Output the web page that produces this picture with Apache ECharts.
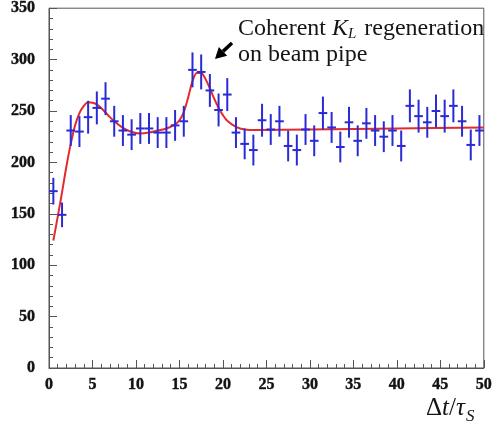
<!DOCTYPE html>
<html>
<head>
<meta charset="utf-8">
<script src="https://cdn.jsdelivr.net/npm/echarts@6/dist/echarts.min.js"></script>
<style>
html,body{margin:0;padding:0;background:#fff;}
#c{width:495px;height:428px;}
</style>
</head>
<body>
<div id="c"></div>
<script>
// Bin centres (Δt/τS)
const binX = [0.5,1.5,2.5,3.5,4.5,5.5,6.5,7.5,8.5,9.5,10.5,11.5,12.5,13.5,14.5,15.5,16.5,17.5,18.5,19.5,20.5,21.5,22.5,23.5,24.5,25.5,26.5,27.5,28.5,29.5,30.5,31.5,32.5,33.5,34.5,35.5,36.5,37.5,38.5,39.5,40.5,41.5,42.5,43.5,44.5,45.5,46.5,47.5,48.5,49.5];
// Event counts per bin
const counts = [172,149,231,230,244,253,262,240,231,227,233,233,229,229,236,240,290,288,270,251,266,229,218,212,241,232,240,216,212,232,221,248,234,215,239,221,238,231,225,231,216,255,245,239,250,245,255,240,217,231];
// Vertical error per bin
const errors = [13,12,15,15,16,16,16,15,15,15,15,15,15,15,15,15,17,17,16,16,16,15,15,15,16,15,15,15,15,15,15,16,15,15,15,15,15,15,15,15,15,16,16,15,16,16,16,15,15,15];
// Fit curve
const fitX = [0.5,1,1.5,2,2.5,3,3.5,4,4.5,5,5.5,6,6.5,7,7.5,8.5,9.5,10.5,11.5,12.5,13.5,14.5,15,15.5,16,16.5,17,17.5,18,18.5,19,19.5,20,20.5,21.5,22.5,24,30,40,50];
const fitY = [124,147,171,196,218,236,248,255,258.5,258,256.5,253,248.5,244,240,233.5,229.5,228,229,231,233,237,241,249,263,279,287,287,281,272,262,253,246,240.5,234.5,232,231.5,232,233,234];
const yTicks = [0,50,100,150,200,250,300,350];
const xTicks = [0,5,10,15,20,25,30,35,40,45,50];

const chart = echarts.init(document.getElementById('c'), null, {renderer:'canvas'});
const blue = '#2a2ad6';
const red = '#e42a2a';
const axisCol = '#555';
const labelFont = {color:'#111', fontFamily:'Liberation Serif', fontWeight:'bold', fontSize:16, textBorderColor:'#111', textBorderWidth:0.4};

chart.setOption({
  animation:false,
  backgroundColor:'#fff',
  grid:{left:49, top:7, right:7, bottom:60, show:true, borderColor:axisCol, borderWidth:1, backgroundColor:'transparent'},
  xAxis:{
    type:'value', min:xTicks[0], max:xTicks[xTicks.length-1], interval:5,
    axisLine:{show:true, onZero:false, lineStyle:{color:axisCol, width:1}},
    axisTick:{show:true, inside:true, length:8, lineStyle:{color:axisCol}},
    minorTick:{show:true, splitNumber:5, length:4, lineStyle:{color:axisCol}},
    splitLine:{show:false},
    axisLabel:Object.assign({margin:9}, labelFont)
  },
  yAxis:{
    type:'value', min:yTicks[0], max:yTicks[yTicks.length-1], interval:50,
    axisLine:{show:true, onZero:false, lineStyle:{color:axisCol, width:1}},
    axisTick:{show:true, inside:true, length:8, lineStyle:{color:axisCol}},
    minorTick:{show:true, splitNumber:5, length:4, lineStyle:{color:axisCol}},
    splitLine:{show:false},
    axisLabel:Object.assign({margin:14}, labelFont)
  },
  series:[
    {
      type:'line',
      data:fitX.map((x,i)=>[x,fitY[i]]),
      smooth:0.3,
      showSymbol:false,
      lineStyle:{color:red, width:2},
      z:3
    },
    {
      type:'custom',
      data:binX.map((x,i)=>[x,counts[i],errors[i]]),
      renderItem:function(params, api){
        const x = api.value(0), y = api.value(1), e = api.value(2);
        const c = api.coord([x,y]);
        const t = api.coord([x,y+e]);
        const b = api.coord([x,y-e]);
        const l = api.coord([x-0.5,y]);
        const r = api.coord([x+0.5,y]);
        const st = {stroke:blue, lineWidth:2};
        return {type:'group', children:[
          {type:'line', shape:{x1:c[0], y1:t[1], x2:c[0], y2:b[1]}, style:st},
          {type:'line', shape:{x1:l[0], y1:c[1], x2:r[0], y2:c[1]}, style:st}
        ]};
      },
      z:4
    }
  ],
  graphic:[
    {
      type:'text', x:238, y:16,
      style:{
        text:'{a|Coherent }{k|K}{s|L}{a| regeneration}\n{a|on beam pipe}',
        verticalAlign:'top',
        rich:{
          a:{fontFamily:'Liberation Serif', fontSize:24, lineHeight:26, fill:'#151515', verticalAlign:'middle'},
          k:{fontFamily:'Liberation Serif', fontSize:24, fontStyle:'italic', lineHeight:26, fill:'#151515', verticalAlign:'middle'},
          s:{fontFamily:'Liberation Serif', fontSize:15, fontStyle:'italic', lineHeight:26, fill:'#151515', verticalAlign:'bottom', padding:[0,2,0,0]}
        }
      }
    },
    {
      type:'polyline',
      shape:{points:[[232,43],[223,51.4]]},
      style:{stroke:'#000', lineWidth:3.5, fill:null}
    },
    {
      type:'polygon',
      shape:{points:[[215,59],[227.2,55.8],[218.8,47.0]]},
      style:{fill:'#000'}
    },
    {
      type:'text', x:426, y:396,
      style:{
        text:'{n|Δ}{i|t}{n|/}{i|τ}{s|S}',
        verticalAlign:'top',
        rich:{
          n:{fontFamily:'Liberation Serif', fontSize:25, lineHeight:25, fill:'#151515', verticalAlign:'middle'},
          i:{fontFamily:'Liberation Serif', fontSize:25, fontStyle:'italic', lineHeight:25, fill:'#151515', verticalAlign:'middle'},
          s:{fontFamily:'Liberation Serif', fontSize:17, fontStyle:'italic', lineHeight:25, fill:'#151515', verticalAlign:'bottom', padding:[0,0,-4,1]}
        }
      }
    }
  ]
});
</script>
</body>
</html>
